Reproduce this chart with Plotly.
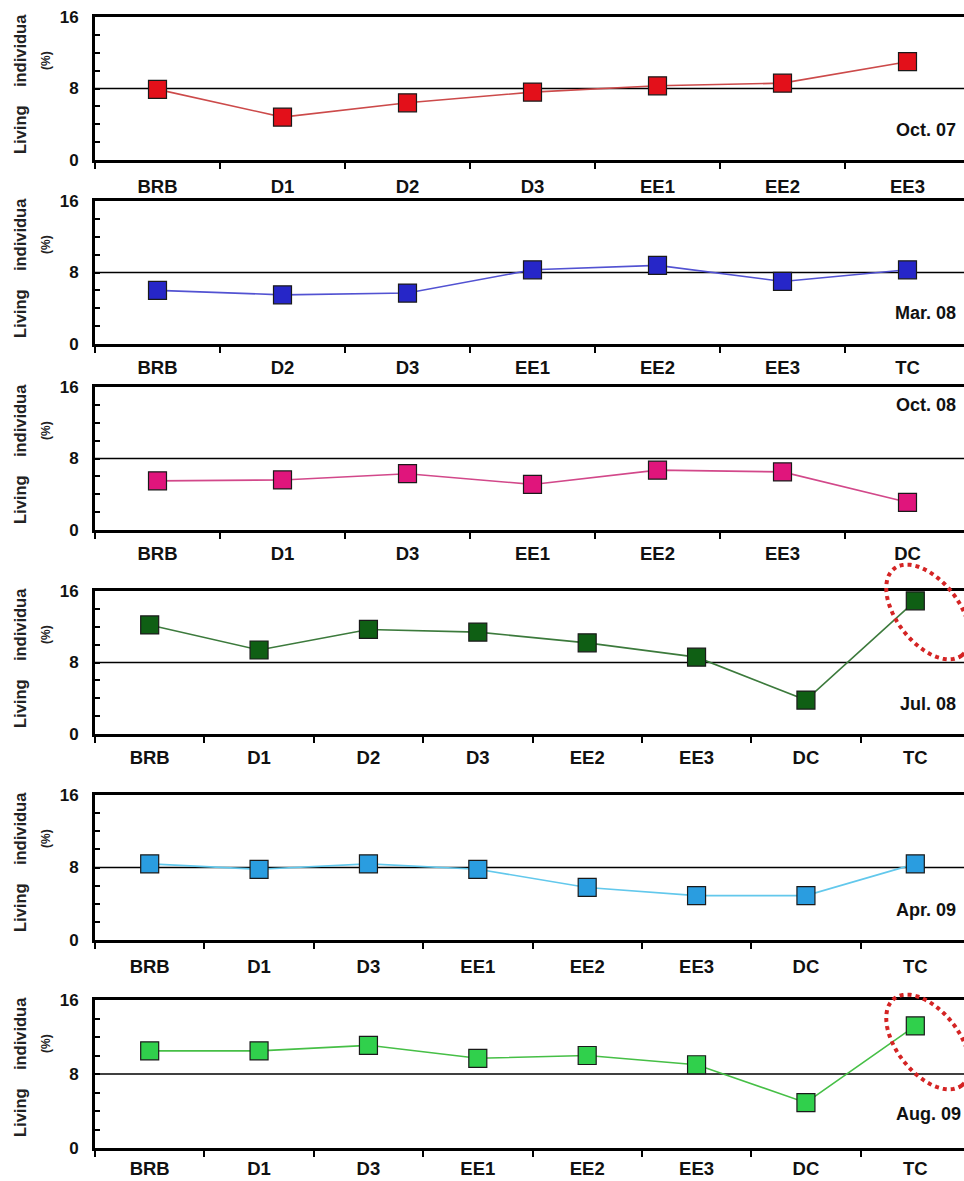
import numpy as np
import plotly.graph_objects as go

W, H = 964, 1181
ML = 95  # left margin in px
PW = W - ML

# ---------------- data ----------------
oct07_cats = ["BRB", "D1", "D2", "D3", "EE1", "EE2", "EE3"]
oct07_vals = [7.9, 4.8, 6.4, 7.6, 8.3, 8.6, 11.0]

mar08_cats = ["BRB", "D2", "D3", "EE1", "EE2", "EE3", "TC"]
mar08_vals = [6.0, 5.5, 5.7, 8.3, 8.8, 7.0, 8.3]

oct08_cats = ["BRB", "D1", "D3", "EE1", "EE2", "EE3", "DC"]
oct08_vals = [5.5, 5.6, 6.3, 5.1, 6.7, 6.5, 3.1]

jul08_cats = ["BRB", "D1", "D2", "D3", "EE2", "EE3", "DC", "TC"]
jul08_vals = [12.2, 9.4, 11.7, 11.4, 10.2, 8.6, 3.8, 14.9]

apr09_cats = ["BRB", "D1", "D3", "EE1", "EE2", "EE3", "DC", "TC"]
apr09_vals = [8.4, 7.8, 8.4, 7.8, 5.8, 4.9, 4.9, 8.4]

aug09_cats = ["BRB", "D1", "D3", "EE1", "EE2", "EE3", "DC", "TC"]
aug09_vals = [10.5, 10.5, 11.1, 9.7, 10.0, 9.0, 4.9, 13.2]

date_labels = ["Oct. 07", "Mar. 08", "Oct. 08", "Jul. 08", "Apr. 09", "Aug. 09"]
y_ticks = [0, 2, 4, 6, 8, 10, 12, 14, 16]
y_tick_text = ["0", "", "", "", "8", "", "", "", "16"]
ref_level = 8
y_title = "Living\u00a0\u00a0\u00a0\u00a0individua"
y_unit = "(%)"

# ---------------- style / layout ----------------
panels = [
    dict(cats=oct07_cats, vals=oct07_vals, top=17, bot=160, mk="#e3101a", ln="#cc4a4a", lab_dy=-30, circle=False, so=8),
    dict(cats=mar08_cats, vals=mar08_vals, top=201, bot=344, mk="#2626c8", ln="#5252d2", lab_dy=-31, circle=False, so=5),
    dict(cats=oct08_cats, vals=oct08_vals, top=387, bot=530, mk="#e0157c", ln="#d2488a", lab_dy=None, circle=False, so=5),
    dict(cats=jul08_cats, vals=jul08_vals, top=591, bot=734, mk="#0f5f14", ln="#3c7a3c", lab_dy=-30, circle=True, so=5),
    dict(cats=apr09_cats, vals=apr09_vals, top=795, bot=940, mk="#2a9de0", ln="#62c8ec", lab_dy=-30, circle=False, so=8),
    dict(cats=aug09_cats, vals=aug09_vals, top=1000, bot=1148, mk="#30d04c", ln="#46bf46", lab_dy=-34, circle=True, so=2),
]

FONT = "Liberation Sans, Arial, sans-serif"


def px_x(px):
    return (px - ML) / PW


def px_y(py):
    return 1 - py / H


fig = go.Figure()
layout = dict(
    template="none",
    width=W, height=H, autosize=False,
    margin=dict(l=ML, r=0, t=0, b=0, pad=0),
    plot_bgcolor="white", paper_bgcolor="white",
    showlegend=False,
    font=dict(family=FONT, color="black"),
)
shapes = []
annotations = []

band_px = {7: 125.0, 8: 109.375}

for i, p in enumerate(panels):
    k = "" if i == 0 else str(i + 1)
    xa, ya = "x" + k, "y" + k
    n = len(p["cats"])
    fig.add_trace(go.Scatter(
        x=p["cats"], y=p["vals"], xaxis=xa, yaxis=ya, mode="lines+markers",
        line=dict(color=p["ln"], width=1.6),
        marker=dict(symbol="square", size=18, color=p["mk"], line=dict(color="#1a1a1a", width=1.2)),
        cliponaxis=False,
    ))
    layout["xaxis" + k] = dict(
        domain=[0, 1], anchor=ya, type="category", automargin=False,
        range=[-0.5, -0.5 + PW / band_px[n]],
        showline=True, linewidth=3, linecolor="black", mirror=True,
        ticks="outside", ticklen=6, tickwidth=1.5, tickcolor="black", tickson="boundaries",
        showgrid=False, zeroline=False,
        tickfont=dict(size=18.5, weight="bold", family=FONT, color="#111"),
        ticklabelstandoff=p["so"],
    )
    layout["yaxis" + k] = dict(
        domain=[px_y(p["bot"]), px_y(p["top"])], anchor=xa, automargin=False,
        range=[0, 16], tickvals=y_ticks, ticktext=y_tick_text,
        showline=True, linewidth=3, linecolor="black",
        ticks="inside", ticklen=5, tickwidth=1.5, tickcolor="black",
        showgrid=False, zeroline=False,
        tickfont=dict(size=17, weight="bold", family=FONT, color="#111"),
        ticklabelstandoff=10,
    )
    shapes.append(dict(type="line", xref=xa + " domain", yref=ya, x0=0, x1=1,
                       y0=ref_level, y1=ref_level, line=dict(color="black", width=1.3), layer="below"))
    # y titles
    annotations.append(dict(text=y_title, xref="paper", yref="paper",
                            x=px_x(20), y=px_y(p["top"] + 67), textangle=-90,
                            showarrow=False, font=dict(size=16.5, weight="bold", color="#222"),
                            xanchor="center", yanchor="middle"))
    annotations.append(dict(text=y_unit, xref="paper", yref="paper",
                            x=px_x(46), y=px_y(p["top"] + 44), textangle=-90,
                            showarrow=False, font=dict(size=12, weight="bold", color="#222"),
                            xanchor="center", yanchor="middle"))
    # date label
    ly = p["top"] + 18 if p["lab_dy"] is None else p["bot"] + p["lab_dy"]
    rx = 963 if i == 5 else 958
    annotations.append(dict(text=date_labels[i], xref="paper", yref="paper",
                            x=px_x(rx), y=px_y(ly), xanchor="right", yanchor="middle",
                            showarrow=False, font=dict(size=18, weight="bold", color="#111")))
    # dotted ellipse highlight
    if p["circle"]:
        cx, cy = 928, p["top"] + (21 if i == 3 else 42)
        a, b, ang = 55, 31, np.deg2rad(52)
        t = np.linspace(0, 2 * np.pi, 120)
        ex = cx + a * np.cos(t) * np.cos(ang) - b * np.sin(t) * np.sin(ang)
        ey = cy + a * np.cos(t) * np.sin(ang) + b * np.sin(t) * np.cos(ang)
        path = "M " + " L ".join(f"{px_x(x):.5f},{px_y(y):.5f}" for x, y in zip(ex, ey)) + " Z"
        shapes.append(dict(type="path", xref="paper", yref="paper", path=path,
                           line=dict(color="#d42424", width=4, dash="dot"), layer="above"))

layout["shapes"] = shapes
layout["annotations"] = annotations
fig.update_layout(**layout)
fig.write_html("out.html")
